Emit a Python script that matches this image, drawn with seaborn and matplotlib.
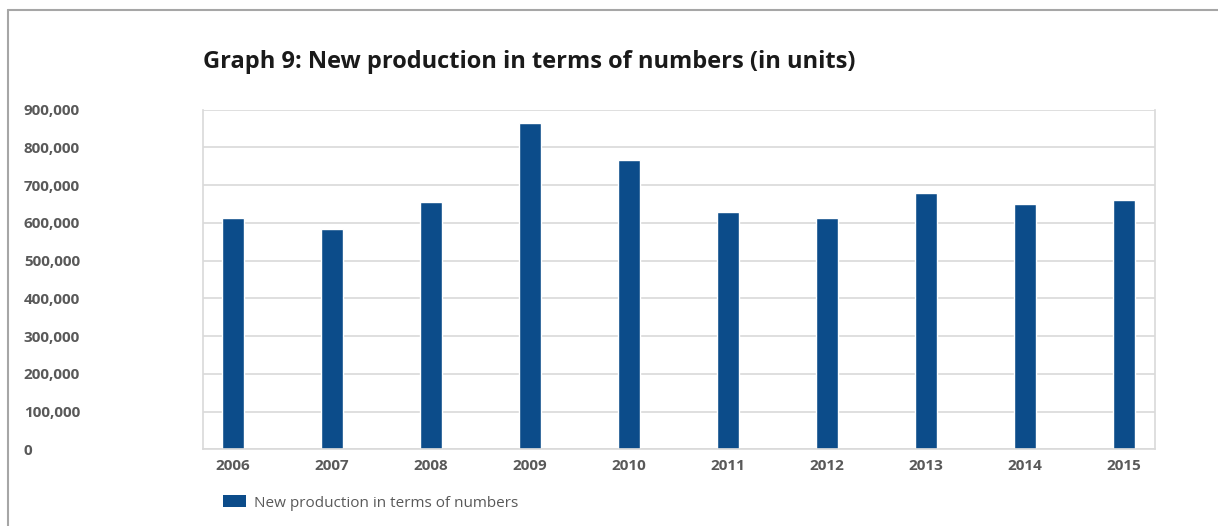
import matplotlib
matplotlib.use("Agg")
import matplotlib.pyplot as plt
import seaborn as sns
import pandas as pd
from matplotlib.patches import Patch
from matplotlib.lines import Line2D
from matplotlib.ticker import FuncFormatter

years = ["2006", "2007", "2008", "2009", "2010", "2011", "2012", "2013", "2014", "2015"]
values = [613000, 584000, 655000, 865000, 767000, 629000, 613000, 679000, 650000, 661000]
series_name = "New production in terms of numbers"
title = "Graph 9: New production in terms of numbers (in units)"
yticks = [0, 100000, 200000, 300000, 400000, 500000, 600000, 700000, 800000, 900000]

sns.set_theme(style="white")
plt.rcParams['font.family'] = ['Open Sans', 'DejaVu Sans']

W, H = 1218, 526
fig = plt.figure(figsize=(W / 100, H / 100), dpi=100)
ax = fig.add_axes([203 / W, 1 - 449.3 / H, (1155 - 203) / W, (449.3 - 109.7) / H])

df = pd.DataFrame({"year": years, "value": values})
bar_color = "#0C4C8A"
sns.barplot(data=df, x="year", y="value", color=bar_color, width=0.232, ax=ax,
            saturation=1)

ax.set_ylim(0, 900000)
ax.set_xlim(-0.303, len(years) - 1 + 0.313)
ax.set_yticks(yticks)
ax.yaxis.set_major_formatter(FuncFormatter(lambda v, p: f"{int(v):,}"))
ax.set_xlabel("")
ax.set_ylabel("")
ax.grid(axis="y", color="#D9D9D9", linewidth=1.2)
ax.set_axisbelow(True)

for s in ["left", "right", "bottom"]:
    ax.spines[s].set_visible(True)
    ax.spines[s].set_color("#D9D9D9")
    ax.spines[s].set_linewidth(1.2)
ax.spines["top"].set_visible(False)

ax.tick_params(axis="y", length=7, color="#D9D9D9", width=1.2, pad=122,
               labelsize=11, labelcolor="#595959")
ax.tick_params(axis="x", length=0, pad=7, labelsize=11, labelcolor="#595959")
for lab in ax.get_yticklabels():
    lab.set_ha("left")
    lab.set_fontweight("bold")
for lab in ax.get_xticklabels():
    lab.set_fontweight("bold")

fig.text(203 / W, 1 - 62 / H, title, fontsize=17, fontweight="bold",
         color="#1A1A1A", ha="left", va="center")

handles = [Patch(facecolor=bar_color, edgecolor="none", label=series_name)]
fig.legend(handles=handles, loc="center left", bbox_to_anchor=(209 / W, 1 - 503 / H),
           frameon=False, fontsize=11, labelcolor="#595959",
           handlelength=1.55, handleheight=0.8, handletextpad=0.5)

# outer border (top and left)
fig.add_artist(Line2D([7.5 / W, 1.0], [1 - 10 / H, 1 - 10 / H], color="#A6A6A6",
                      linewidth=1.5, transform=fig.transFigure))
fig.add_artist(Line2D([7.5 / W, 7.5 / W], [0, 1 - 10 / H], color="#A6A6A6",
                      linewidth=1.5, transform=fig.transFigure))

fig.savefig("out.png", dpi=100)
